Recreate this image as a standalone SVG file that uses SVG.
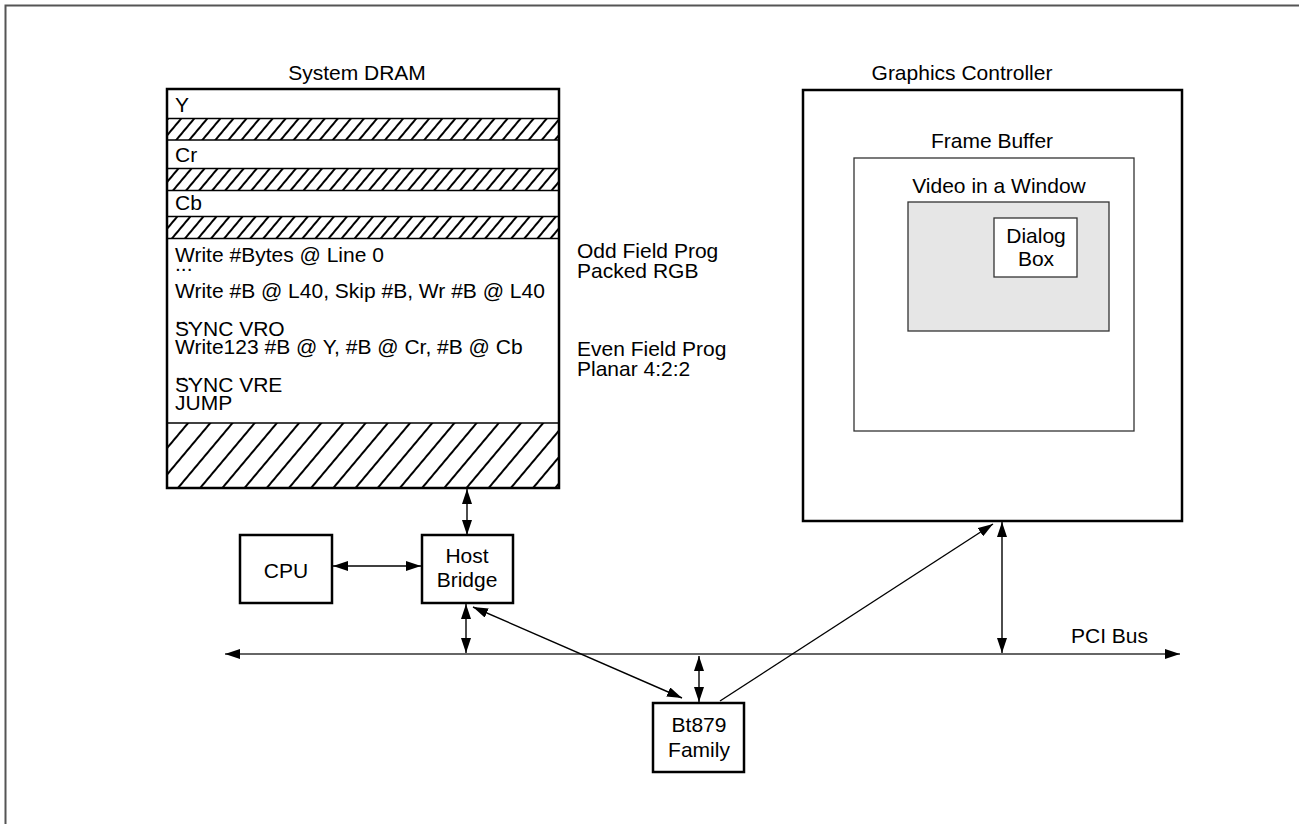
<svg xmlns="http://www.w3.org/2000/svg" width="1299" height="824" viewBox="0 0 1299 824">
<style>
text{font-family:"Liberation Sans",Arial,sans-serif;font-size:21px;fill:#000}
.c{text-anchor:middle}
.thick{fill:#fff;stroke:#000;stroke-width:2.5}
.thin{fill:#fff;stroke:#333;stroke-width:1.3}
.ln{stroke:#000;stroke-width:1.4;fill:none}
.bus{stroke:#333;stroke-width:1.6;fill:none}
.hl{stroke:#000;stroke-width:2}
</style>
<defs>
<pattern id="hA" patternUnits="userSpaceOnUse" width="10" height="10" patternTransform="rotate(40)">
<line x1="5" y1="-2" x2="5" y2="12" class="hl"/>
</pattern>
<pattern id="hB" patternUnits="userSpaceOnUse" width="17" height="17" patternTransform="rotate(40)">
<line x1="8" y1="-2" x2="8" y2="19" class="hl"/>
</pattern>
<marker id="ah" markerUnits="userSpaceOnUse" viewBox="0 0 15 10" refX="15" refY="5" markerWidth="15" markerHeight="10" orient="auto-start-reverse">
<path d="M0,0 L15,5 L0,10 Z" fill="#000"/>
</marker>
</defs>
<path d="M5.5,824 V5.5 H1299" fill="none" stroke="#555" stroke-width="2"/>
<g id="dram">
<text class="c" x="357" y="80">System DRAM</text>
<rect x="167" y="89" width="392" height="399" fill="#fff"/>
<rect x="167" y="118" width="392" height="22" fill="url(#hA)"/>
<rect x="167" y="168" width="392" height="22" fill="url(#hA)"/>
<rect x="167" y="216" width="392" height="22" fill="url(#hA)"/>
<rect x="167" y="423" width="392" height="65" fill="url(#hB)"/>
<g stroke="#000" stroke-width="1.3">
<line x1="167" y1="118.5" x2="559" y2="118.5"/>
<line x1="167" y1="140" x2="559" y2="140"/>
<line x1="167" y1="168.5" x2="559" y2="168.5"/>
<line x1="167" y1="190.5" x2="559" y2="190.5"/>
<line x1="167" y1="216.5" x2="559" y2="216.5"/>
<line x1="167" y1="238.5" x2="559" y2="238.5"/>
<line x1="167" y1="423" x2="559" y2="423"/>
</g>
<rect x="167" y="89" width="392" height="399" fill="none" stroke="#000" stroke-width="2.5"/>
<text x="175" y="112">Y</text>
<text x="175" y="162">Cr</text>
<text x="175" y="210">Cb</text>
<text x="175" y="262">Write #Bytes @ Line 0</text>
<text x="175" y="271">...</text>
<text x="175" y="298">Write #B @ L40, Skip #B, Wr #B @ L40</text>
<text x="175" y="324">...</text>
<text x="175" y="336">SYNC VRO</text>
<text x="175" y="354">Write123 #B @ Y, #B @ Cr, #B @ Cb</text>
<text x="175" y="380">...</text>
<text x="175" y="392">SYNC VRE</text>
<text x="175" y="410">JUMP</text>
</g>
<g id="notes">
<text x="577" y="258">Odd Field Prog</text>
<text x="577" y="278">Packed RGB</text>
<text x="577" y="356">Even Field Prog</text>
<text x="577" y="376">Planar 4:2:2</text>
</g>
<g id="gc">
<text class="c" x="962" y="80">Graphics Controller</text>
<rect class="thick" x="803" y="90" width="379" height="431"/>
<text class="c" x="992" y="148">Frame Buffer</text>
<rect class="thin" x="854" y="158" width="280" height="273"/>
<text class="c" x="999" y="193">Video in a Window</text>
<rect x="908" y="202" width="201" height="129" fill="#e6e6e6" stroke="#333" stroke-width="1.3"/>
<rect class="thin" x="994" y="218" width="83" height="59"/>
<text class="c" x="1036" y="243">Dialog</text>
<text class="c" x="1036" y="266">Box</text>
</g>
<g id="cpu">
<rect class="thick" x="240" y="535" width="92" height="68"/>
<text class="c" x="286" y="578">CPU</text>
</g>
<g id="host">
<rect class="thick" x="422" y="535" width="91" height="68"/>
<text class="c" x="467" y="563">Host</text>
<text class="c" x="467" y="587">Bridge</text>
</g>
<g id="bt879">
<rect class="thick" x="653" y="703" width="91" height="69"/>
<text class="c" x="699" y="732">Bt879</text>
<text class="c" x="699" y="757">Family</text>
</g>
<g id="bus">
<text x="1071" y="643">PCI Bus</text>
</g>
<g id="connectors">
<line class="bus" x1="225" y1="654" x2="1180" y2="654" marker-start="url(#ah)" marker-end="url(#ah)"/>
<line class="ln" x1="467" y1="489" x2="467" y2="535" marker-start="url(#ah)" marker-end="url(#ah)"/>
<line class="ln" x1="333" y1="566" x2="421" y2="566" marker-start="url(#ah)" marker-end="url(#ah)"/>
<line class="ln" x1="466" y1="604" x2="466" y2="653" marker-start="url(#ah)" marker-end="url(#ah)"/>
<line class="ln" x1="473" y1="607" x2="682" y2="698" marker-start="url(#ah)" marker-end="url(#ah)"/>
<line class="ln" x1="699" y1="656" x2="699" y2="702" marker-start="url(#ah)" marker-end="url(#ah)"/>
<line class="ln" x1="720" y1="701" x2="993" y2="524" marker-end="url(#ah)"/>
<line class="ln" x1="1002" y1="522" x2="1002" y2="653" marker-start="url(#ah)" marker-end="url(#ah)"/>
</g>
</svg>
